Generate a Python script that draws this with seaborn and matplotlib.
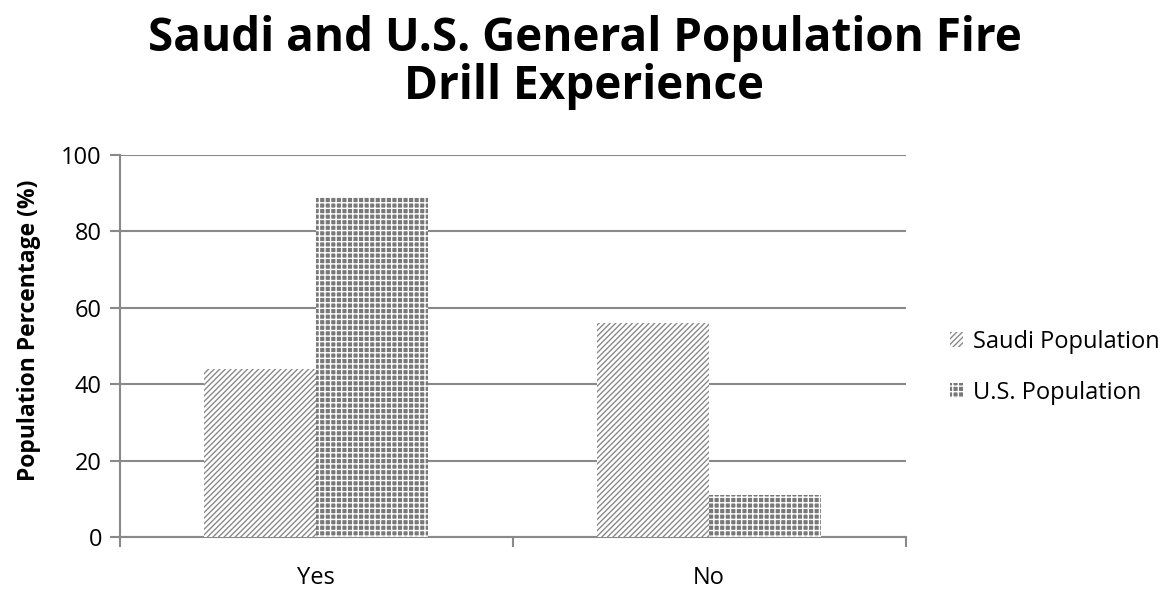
import numpy as np
import seaborn as sns
import pandas as pd
import matplotlib.pyplot as plt
from matplotlib.patches import Patch

#------------------------------------------------------------------------------#
# Data
answers     = ['Yes', 'No']
saudi_vals  = [44, 56]
us_vals     = [89, 11]
series      = ['Saudi Population', 'U.S. Population']
y_ticks     = [0, 20, 40, 60, 80, 100]
#------------------------------------------------------------------------------#

def main():
    sns.set_style('white')
    plt.rcParams['font.family'] = ['Open Sans', 'DejaVu Sans']
    plt.rcParams['hatch.linewidth'] = 1.0
    plt.rcParams['text.color'] = 'black'

    DF = pd.DataFrame({
        'answer': answers * 2,
        'value':  saudi_vals + us_vals,
        'series': [series[0]] * len(answers) + [series[1]] * len(answers),
    })

    fig = plt.figure(figsize=(11.76, 5.89), dpi=100)
    ax = fig.add_axes([0.102, 0.0883, 0.668, 0.6487])

    grid_col = '#898989'
    sns.barplot(data=DF, x='answer', y='value', hue='series', order=answers,
                hue_order=series, width=0.57, gap=0, ax=ax, legend=False,
                zorder=3)

    # hatch styles per series
    styles = [dict(facecolor='white', edgecolor='#8a8a8a', hatch='//////'),
              dict(facecolor='#787878', edgecolor='white', hatch='+++')]
    for i, bar in enumerate(ax.patches):
        st = styles[i // len(answers)]
        bar.set_facecolor(st['facecolor'])
        bar.set_edgecolor(st['edgecolor'])
        bar.set_hatch(st['hatch'])
        bar.set_linewidth(0)

    ax.set_ylim(0, 100)
    ax.set_xlim(-0.5, len(answers) - 0.5)
    ax.set_yticks(y_ticks)
    ax.yaxis.grid(True, color=grid_col, linewidth=1.5, zorder=0)
    ax.set_axisbelow(True)
    for s in ['top', 'right']:
        ax.spines[s].set_visible(False)
    for s in ['left', 'bottom']:
        ax.spines[s].set_color(grid_col)
        ax.spines[s].set_linewidth(1.5)

    ax.set_xticks(np.arange(-0.5, len(answers)), minor=True)
    ax.tick_params(axis='x', which='major', length=0, pad=21, labelsize=17,
                   labelcolor='black')
    ax.tick_params(axis='x', which='minor', length=7, width=1.5,
                   color=grid_col, direction='out', bottom=True)
    ax.tick_params(axis='y', length=7, width=1.5, color=grid_col,
                   direction='out', left=True, labelsize=17, pad=6,
                   labelcolor='black')

    ax.set_xlabel('')
    ax.set_ylabel('Population Percentage (%)', fontsize=16.5,
                  fontweight='bold', color='black')
    ax.yaxis.set_label_coords(-0.100, 0.54)

    fig.suptitle('Saudi and U.S. General Population Fire\nDrill Experience',
                 fontsize=33, fontweight='bold', y=0.975, x=0.497,
                 linespacing=1.03, color='black')

    handles = [Patch(**styles[0], linewidth=0),
               Patch(**styles[1], linewidth=0)]
    fig.legend(handles, series, loc='center left',
               bbox_to_anchor=(0.790, 0.376), frameon=False, fontsize=17,
               handlelength=0.55, handleheight=0.6, handletextpad=0.4,
               labelspacing=1.15)

    plt.savefig('out.png', dpi=100)

if __name__ == '__main__':
    main()
